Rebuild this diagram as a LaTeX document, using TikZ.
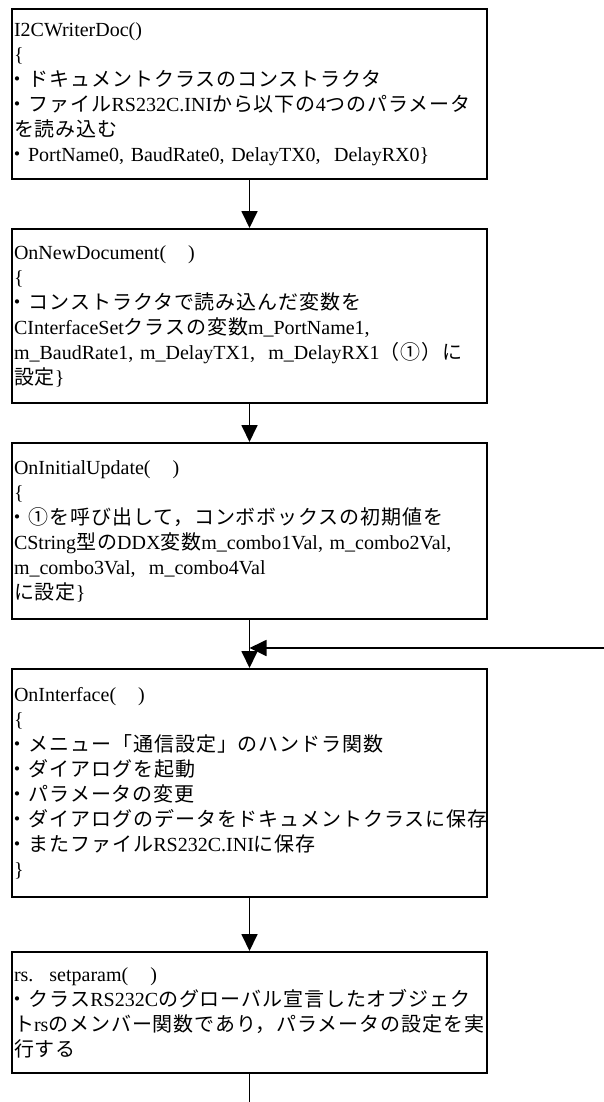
\documentclass[tikz,border=0pt]{standalone}
\usepackage{fontspec}
\setmainfont{Liberation Serif}
\newfontfamily\jpfont[LetterSpace=4.5]{Noto Sans CJK JP}
\newcommand{\jpt}[1]{{\jpfont #1}}
\newcommand{\bul}{\hspace*{-6pt}{\jpfont ・}}
\usetikzlibrary{arrows.meta}
\begin{document}
\begin{tikzpicture}[x=1pt,y=1pt,
  flowbox/.style={draw, line width=1.8pt, text width=471pt, inner xsep=2pt, inner ysep=0pt,
    align=left, anchor=north, font=\fontsize{20}{25}\selectfont},
  conn/.style={line width=1.8pt},
  arr/.style={line width=1.8pt, -{Triangle[length=17pt,width=16pt]}}]
\useasboundingbox (0,0) rectangle (604,-1102);
\node[flowbox, minimum height=170pt] (b1) at (249.5,-8) {I2CWriterDoc()\\
\{\\
\bul\jpt{ドキュメントクラスのコンストラクタ}\\
\bul\jpt{ファイル}RS232C.INI\jpt{から以下の}4\jpt{つのパラメータ}\\
\jpt{を読み込む}\\
\bul PortName0, BaudRate0, DelayTX0,\ \ DelayRX0\}};
\node[flowbox, minimum height=174pt] (b2) at (249.5,-228) {OnNewDocument(\hspace{22pt})\\
\{\\
\bul\jpt{コンストラクタで読み込んだ変数を}\\
CInterfaceSet\jpt{クラスの変数}m\_PortName1,\\
m\_BaudRate1, m\_DelayTX1,\ \ m\_DelayRX1\jpt{（①）に}\\
\jpt{設定}\}};
\node[flowbox, minimum height=176pt] (b3) at (249.5,-442) {OnInitialUpdate(\hspace{22pt})\\
\{\\
\bul\jpt{①を呼び出して，コンボボックスの初期値を}\\
CString\jpt{型の}DDX\jpt{変数}m\_combo1Val, m\_combo2Val,\\
m\_combo3Val,\ \ m\_combo4Val\\
\jpt{に設定}\}};
\node[flowbox, minimum height=228pt] (b4) at (249.5,-668) {OnInterface(\hspace{22pt})\\
\{\\
\bul\jpt{メニュー「通信設定」のハンドラ関数}\\
\bul\jpt{ダイアログを起動}\\
\bul\jpt{パラメータの変更}\\
\bul\jpt{ダイアログのデータをドキュメントクラスに保存}\\
\bul\jpt{またファイル}RS232C.INI\jpt{に保存}\\
\}};
\node[flowbox, minimum height=121pt] (b5) at (249.5,-951) {rs.\hspace{16pt}setparam(\hspace{22pt})\\
\bul\jpt{クラス}RS232C\jpt{のグローバル宣言したオブジェク}\\
\jpt{ト}rs\jpt{のメンバー関数であり，パラメータの設定を実}\\
\jpt{行する}};
\coordinate (rin) at (604,-648);
\coordinate (join) at (b3.south |- rin);
\coordinate (bend) at (b5.south |- 0,-1102);
\draw[arr] (b1.south) -- (b2.north);
\draw[arr] (b2.south) -- (b3.north);
\draw[arr] (b3.south) -- (b4.north);
\draw[arr] (rin) -- (join);
\draw[arr] (b4.south) -- (b5.north);
\draw[conn] (b5.south) -- (bend);
\end{tikzpicture}
\end{document}
